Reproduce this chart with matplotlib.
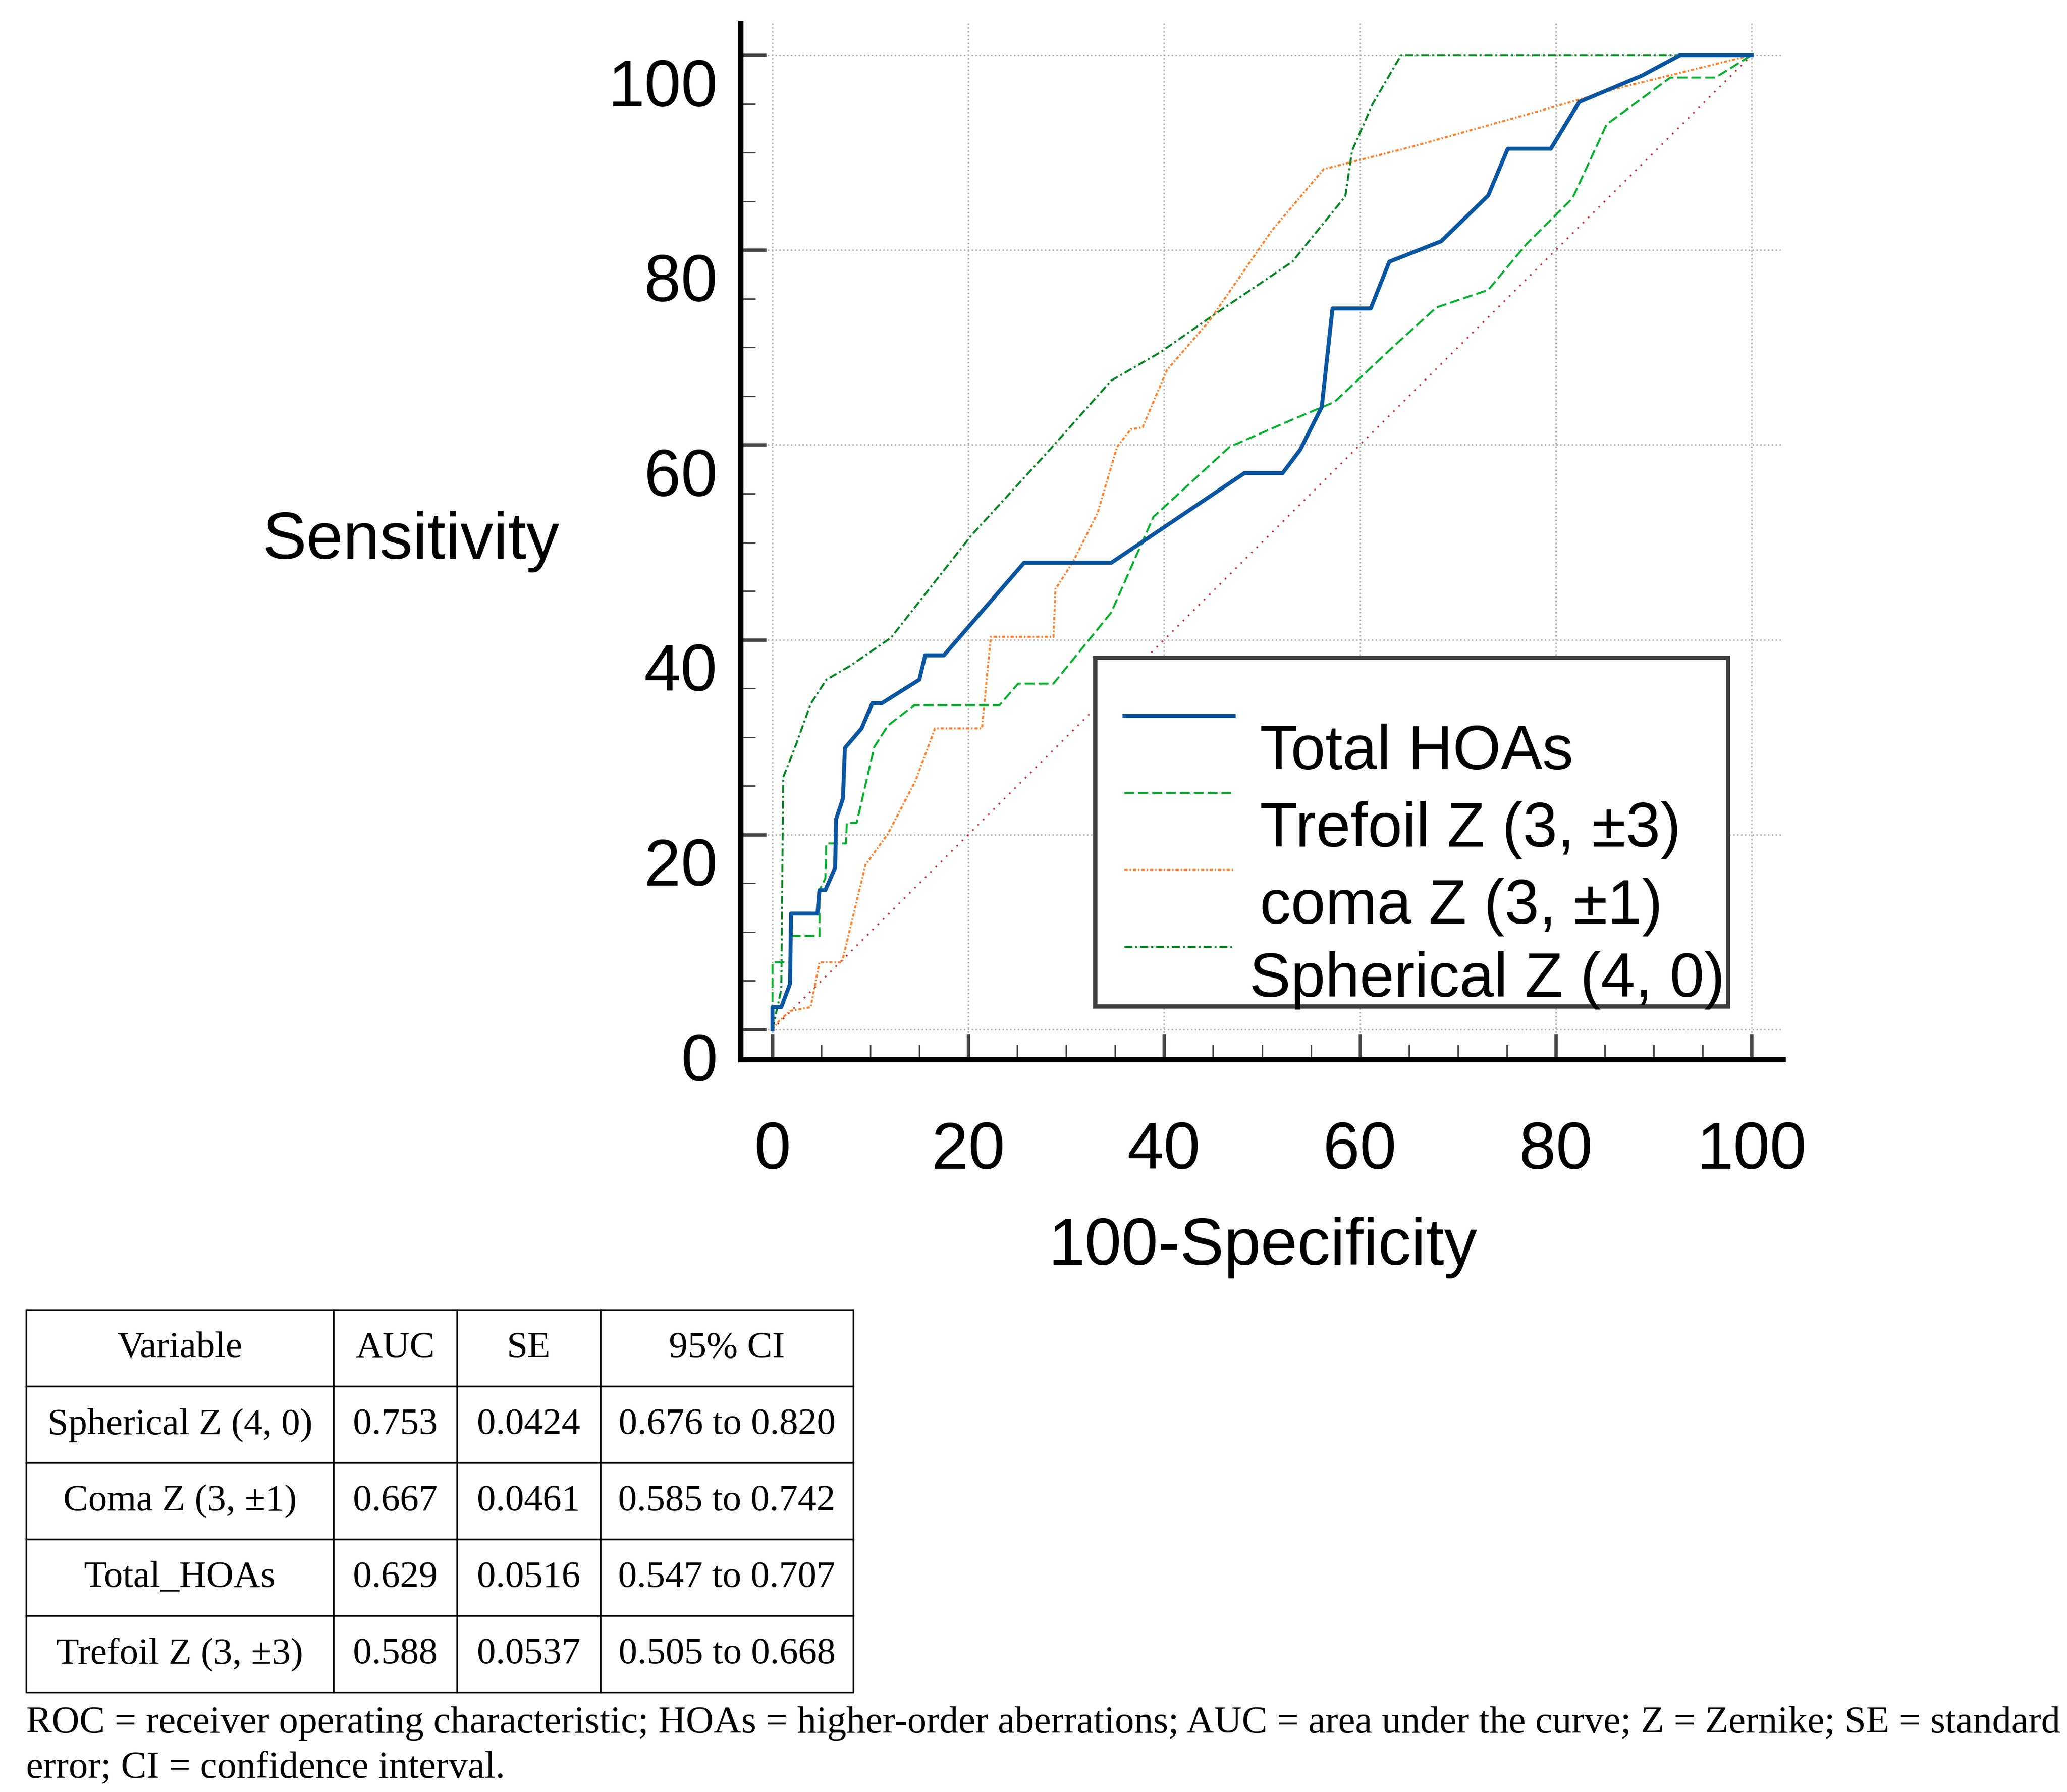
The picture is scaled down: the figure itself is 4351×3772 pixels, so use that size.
import matplotlib
matplotlib.use("Agg")
import matplotlib.pyplot as plt
from matplotlib.ticker import MultipleLocator
from matplotlib.transforms import ScaledTranslation

# ---------------- data ----------------
total_x = [0, 0, 0.9, 1.8, 1.9, 4.6, 4.8, 5.4, 6.4, 6.5, 7.2, 7.4, 9.1, 10.2, 11.2, 15.0, 15.6, 17.5,
           25.7, 34.6, 48.2, 52.1, 53.9, 56.1, 57.2, 61.1, 63.0, 68.3, 73.1, 75.1, 79.5, 82.4, 88.8, 92.7, 100]
total_y = [0, 2.3, 2.3, 4.7, 11.9, 11.9, 14.3, 14.3, 16.6, 21.6, 23.7, 28.9, 30.9, 33.5, 33.5, 35.9, 38.4, 38.4,
           47.9, 47.9, 57.1, 57.1, 59.5, 63.9, 74.0, 74.0, 78.8, 80.9, 85.6, 90.4, 90.4, 95.2, 97.9, 100, 100]

tref_x = [0, 0, 1.8, 1.9, 4.8, 4.8, 5.4, 5.5, 7.5, 7.6, 8.6, 10.4, 11.8, 14.5, 23.2, 25.1, 28.7, 34.6, 38.9,
          46.7, 53.1, 57.4, 63.1, 67.8, 73.1, 77.0, 81.7, 85.2, 91.7, 96.3, 100]
tref_y = [0, 6.9, 6.9, 9.6, 9.6, 14.3, 15.5, 19.1, 19.1, 21.2, 21.2, 29.0, 31.2, 33.3, 33.3, 35.5, 35.5, 42.8, 52.6,
          59.8, 62.6, 64.4, 69.8, 74.1, 75.9, 80.6, 85.3, 92.9, 97.7, 97.7, 100]

coma_x = [0, 0.7, 1.8, 3.9, 4.8, 7.1, 9.5, 11.8, 14.6, 16.6, 21.4, 22.3, 28.7, 28.9, 30.7, 33.2, 35.2, 36.6,
          37.8, 40.3, 44.6, 51.0, 56.3, 65.3, 79.5, 86.7, 100]
coma_y = [0, 0.9, 1.9, 2.3, 6.9, 6.9, 16.9, 20.1, 25.5, 30.9, 30.9, 40.3, 40.3, 45.2, 48.0, 53.0, 59.8, 61.6,
          61.8, 67.7, 72.7, 82.0, 88.3, 90.6, 94.6, 96.7, 100]

sph_x = [0, 0.9, 1.1, 2.1, 3.9, 5.5, 7.9, 12.1, 20.3, 28.5, 34.6, 39.6, 45.3, 53.1, 58.5, 59.2, 61.3, 64.2, 100]
sph_y = [0, 4.1, 25.9, 28.4, 33.4, 35.9, 37.3, 40.2, 50.7, 59.7, 66.6, 69.5, 73.5, 78.8, 85.5, 90.2, 95.0, 100, 100]

chance_x = [0, 100]
chance_y = [0, 100]

legend_labels = ["Total HOAs", "Trefoil Z (3, \u00b13)", "coma Z (3, \u00b11)", "Spherical Z (4, 0)"]

table_header = ["Variable", "AUC", "SE", "95% CI"]
table_variable = ["Spherical Z (4, 0)", "Coma Z (3, \u00b11)", "Total_HOAs", "Trefoil Z (3, \u00b13)"]
table_auc = ["0.753", "0.667", "0.629", "0.588"]
table_se = ["0.0424", "0.0461", "0.0516", "0.0537"]
table_ci = ["0.676 to 0.820", "0.585 to 0.742", "0.547 to 0.707", "0.505 to 0.668"]

caption_lines = [
    "ROC = receiver operating characteristic; HOAs = higher-order aberrations; AUC = area under the curve; Z = Zernike; SE = standard",
    "error; CI = confidence interval.",
]

# ---------------- figure ----------------
W, H, DPI = 4351, 3773, 100
fig = plt.figure(figsize=(W / DPI, H / DPI), dpi=DPI)
plt.rcParams['font.family'] = ['Liberation Sans', 'DejaVu Sans']

ax_l, ax_r, ax_b, ax_t = 1559, 3753, 2231, 50
ax = fig.add_axes([ax_l / W, 1 - ax_b / H, (ax_r - ax_l) / W, (ax_b - ax_t) / H])
ax.set_xlim(-3.25, 103.2)
ax.set_ylim(-3.07, 103.27)

for s in ["top", "right"]:
    ax.spines[s].set_visible(False)
for s in ["left", "bottom"]:
    ax.spines[s].set_linewidth(8)
    ax.spines[s].set_color("black")

ax.xaxis.set_major_locator(MultipleLocator(20))
ax.xaxis.set_minor_locator(MultipleLocator(5))
ax.yaxis.set_major_locator(MultipleLocator(20))
ax.yaxis.set_minor_locator(MultipleLocator(5))
ax.tick_params(which="major", direction="in", length=39, width=5, color="#444444", labelsize=100)
ax.tick_params(which="minor", direction="in", length=22, width=2.2, color="#444444")
ax.tick_params(axis="y", which="major", pad=35)
ax.tick_params(axis="x", which="major", pad=92)

ax.grid(True, which="major", color="#b4b4b4", linestyle=":", linewidth=2.2, zorder=0)
ax.set_axisbelow(True)

ax.plot(chance_x, chance_y, color="#d42a2a", linewidth=2.5, dashes=(1, 3.5), zorder=2)
l_sph, = ax.plot(sph_x, sph_y, color="#008522", linewidth=3, dashes=(4, 1.5, 1, 1.5), zorder=3)
l_coma, = ax.plot(coma_x, coma_y, color="#ff7f27", linewidth=3, dashes=(1.6, 1, 0.7, 1), zorder=3)
l_tref, = ax.plot(tref_x, tref_y, color="#00b02c", linewidth=3, dashes=(5, 2), zorder=3)
l_tot, = ax.plot(total_x, total_y, color="#0a55a0", linewidth=6, zorder=4)

ax.set_ylabel("Sensitivity", fontsize=100, rotation=0, ha="center", va="center")
ax.yaxis.set_label_coords(-0.316, 0.5)
ax.set_xlabel("100-Specificity", fontsize=100, va="center")
ax.xaxis.set_label_coords(0.501, -0.181)

# shift y tick labels slightly downward, as in the reference
off = ScaledTranslation(0, -56 / DPI, fig.dpi_scale_trans)
for lab in ax.get_yticklabels():
    lab.set_transform(lab.get_transform() + off)

leg = ax.legend([l_tot, l_tref, l_coma, l_sph], legend_labels,
                loc="upper left", bbox_to_anchor=(0.340, 0.0527, 0.607, 0.335), mode="expand",
                fontsize=94, frameon=True, fancybox=False, framealpha=1,
                edgecolor="#404040", borderpad=0.475, labelspacing=0.30,
                handlelength=1.76, handleheight=0.2, handletextpad=0.42, borderaxespad=0)
leg.get_frame().set_linewidth(6.5)
leg.set_zorder(10)
texts = leg.get_texts()
for t in texts:
    t.set_y(-76)
texts[-1].set_x(-22)
texts[-1].set_y(-68)

# ---------------- table ----------------
t_l, t_r, t_top, t_bot = 55, 1796, 2758, 3563
tax = fig.add_axes([t_l / W, 1 - t_bot / H, (t_r - t_l) / W, (t_bot - t_top) / H])
tax.axis("off")
rows = [list(r) for r in zip(table_variable, table_auc, table_se, table_ci)]
col_px = [647, 260, 302, 532]
col_w = [c / sum(col_px) for c in col_px]
tbl = tax.table(cellText=rows, colLabels=table_header, cellLoc="center",
                colWidths=col_w, bbox=[0, 0, 1, 1])
tbl.auto_set_font_size(False)
for (r, c), cell in tbl.get_celld().items():
    cell.set_linewidth(2.5)
    cell.set_edgecolor("black")
    cell.get_text().set_fontsize(57)
    cell.get_text().set_fontfamily(["Liberation Serif", "DejaVu Serif"])

# ---------------- caption ----------------
cap1 = fig.text(55 / W, 1 - 3628 / H, caption_lines[0], fontsize=57, va="center", ha="left",
                family=["Liberation Serif", "DejaVu Serif"])
fig.canvas.draw()
wpx = cap1.get_window_extent().width
fs = 57 * (4279 / wpx)
cap1.set_fontsize(fs)
fig.text(55 / W, 1 - 3722 / H, caption_lines[1], fontsize=fs, va="center", ha="left",
         family=["Liberation Serif", "DejaVu Serif"])

fig.savefig("out.png", dpi=DPI, facecolor="white")
